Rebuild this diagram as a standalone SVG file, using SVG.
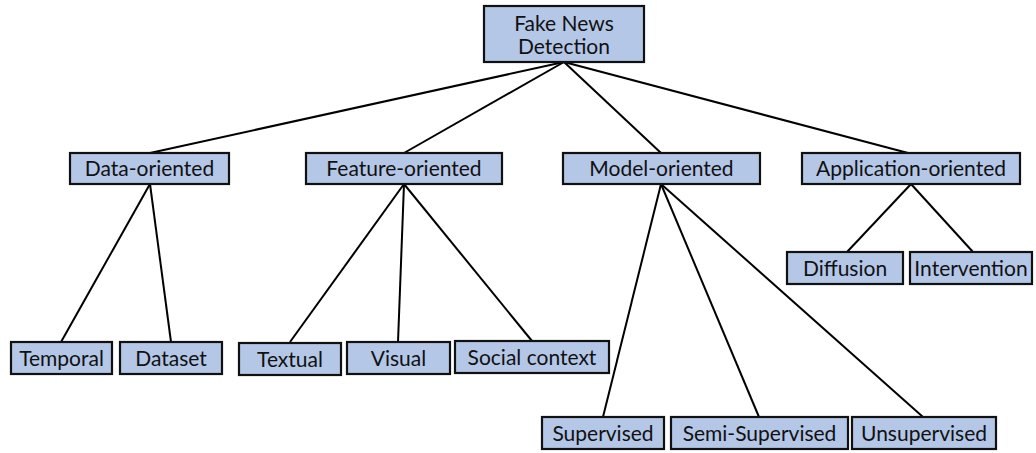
<svg xmlns="http://www.w3.org/2000/svg" width="1036" height="453" viewBox="0 0 1036 453">
  <style>
    .box { fill: #b4c7e7; stroke: #111; stroke-width: 2.2; }
    .lbl { font-family: Lato, "Open Sans", sans-serif; font-size: 21px; fill: #111; text-anchor: middle; dominant-baseline: central; }
    .edge { stroke: #000; stroke-width: 2; fill: none; }
  </style>
  <rect width="1036" height="453" fill="#fff"/>

  <!-- tree edges -->
  <g id="connectors">
    <line class="edge" x1="564" y1="62" x2="150" y2="153"/>
    <line class="edge" x1="564" y1="62" x2="404" y2="153"/>
    <line class="edge" x1="564" y1="62" x2="661" y2="153"/>
    <line class="edge" x1="564" y1="62" x2="908" y2="153"/>
    <line class="edge" x1="150" y1="184" x2="61" y2="342"/>
    <line class="edge" x1="150" y1="184" x2="171" y2="342"/>
    <line class="edge" x1="404" y1="184" x2="290" y2="342"/>
    <line class="edge" x1="404" y1="184" x2="398" y2="342"/>
    <line class="edge" x1="404" y1="184" x2="532" y2="341"/>
    <line class="edge" x1="661" y1="184" x2="603" y2="417"/>
    <line class="edge" x1="661" y1="184" x2="759" y2="417"/>
    <line class="edge" x1="661" y1="184" x2="923" y2="417"/>
    <line class="edge" x1="911" y1="184" x2="847" y2="252"/>
    <line class="edge" x1="911" y1="184" x2="973" y2="252"/>
  </g>

  <g id="root">
    <rect class="box" x="484" y="6" width="160" height="56"/>
    <text class="lbl" x="564" y="22">Fake News</text>
    <text class="lbl" x="564" y="45">Detection</text>
  </g>

  <g id="data-oriented">
    <rect class="box" x="70" y="153" width="159" height="31"/>
    <text class="lbl" x="149.5" y="167.5">Data-oriented</text>
  </g>
  <g id="feature-oriented">
    <rect class="box" x="306" y="153" width="196" height="31"/>
    <text class="lbl" x="404" y="167.5">Feature-oriented</text>
  </g>
  <g id="model-oriented">
    <rect class="box" x="563" y="153" width="197" height="31"/>
    <text class="lbl" x="661.5" y="167.5">Model-oriented</text>
  </g>
  <g id="application-oriented">
    <rect class="box" x="802" y="153" width="218" height="31"/>
    <text class="lbl" x="911" y="167.5">Application-oriented</text>
  </g>

  <g id="temporal">
    <rect class="box" x="11" y="342" width="101" height="32"/>
    <text class="lbl" x="61.5" y="357">Temporal</text>
  </g>
  <g id="dataset">
    <rect class="box" x="120" y="342" width="102" height="32"/>
    <text class="lbl" x="171" y="357">Dataset</text>
  </g>
  <g id="textual">
    <rect class="box" x="239" y="343" width="102" height="32"/>
    <text class="lbl" x="290" y="358">Textual</text>
  </g>
  <g id="visual">
    <rect class="box" x="347" y="342" width="103" height="32"/>
    <text class="lbl" x="398.5" y="357">Visual</text>
  </g>
  <g id="social-context">
    <rect class="box" x="455" y="341" width="154" height="32"/>
    <text class="lbl" x="532" y="356">Social context</text>
  </g>

  <g id="diffusion">
    <rect class="box" x="787" y="252" width="116" height="32"/>
    <text class="lbl" x="845" y="267">Diffusion</text>
  </g>
  <g id="intervention">
    <rect class="box" x="910" y="252" width="122" height="32"/>
    <text class="lbl" x="971" y="267">Intervention</text>
  </g>

  <g id="supervised">
    <rect class="box" x="542" y="417" width="122" height="32"/>
    <text class="lbl" x="603" y="432">Supervised</text>
  </g>
  <g id="semi-supervised">
    <rect class="box" x="671" y="417" width="177" height="32"/>
    <text class="lbl" x="759.5" y="432">Semi-Supervised</text>
  </g>
  <g id="unsupervised">
    <rect class="box" x="852" y="417" width="144" height="32"/>
    <text class="lbl" x="924" y="432">Unsupervised</text>
  </g>
</svg>
